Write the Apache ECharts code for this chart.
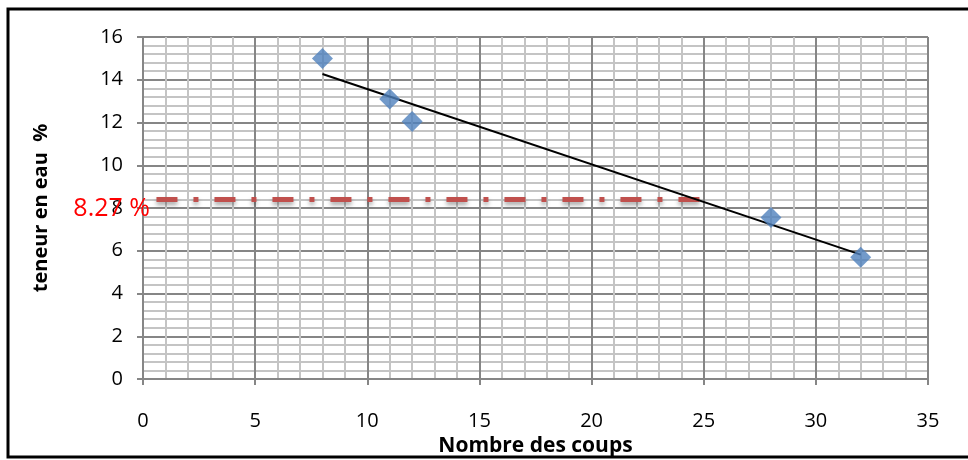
<!DOCTYPE html>
<html>
<head>
<meta charset="utf-8">
<script src="https://cdn.jsdelivr.net/npm/echarts@6/dist/echarts.min.js"></script>
<style>
  html, body { margin: 0; padding: 0; background: #fff; }
  #chart { width: 968px; height: 460px; }
</style>
</head>
<body>
<div id="chart"></div>
<script>
// measured points
const coups = [8, 11, 12, 28, 32]
const teneur = [15, 13.1, 12.05, 7.55, 5.7]

// linear trend line, ends
const trendX = [8, 32]
const trendY = [14.27, 5.82]

// liquid limit line
const limitX = [0.6, 25]
const limitY = 8.4
const limitLabel = '8.27 %'

const font = 'Open Sans, Liberation Sans, sans-serif'

const myChart = echarts.init(document.getElementById('chart'))
const option = {
  animation: false,
  grid: {
    left: 143,
    right: 40,
    top: 37,
    bottom: 81,
    outerBoundsMode: 'none',
  },
  xAxis: {
    type: 'value',
    min: 0,
    max: 35,
    interval: 5,
    name: 'Nombre des coups',
    nameLocation: 'middle',
    nameGap: 52,
    nameTextStyle: { fontFamily: font, fontSize: 21, fontWeight: 'bold', color: '#000' },
    axisLine: { show: true, lineStyle: { color: '#868686', width: 2 } },
    axisTick: { show: true, length: 6, lineStyle: { color: '#868686', width: 2 } },
    axisLabel: { fontFamily: font, fontSize: 20, color: '#000', margin: 32 },
    splitLine: { show: true, lineStyle: { color: '#868686', width: 2 } },
    minorTick: { show: false, splitNumber: 5 },
    minorSplitLine: { show: true, lineStyle: { color: '#c4c4c4', width: 2 } },
  },
  yAxis: {
    type: 'value',
    min: 0,
    max: 16,
    interval: 2,
    name: 'teneur en eau  %',
    nameLocation: 'middle',
    nameGap: 92,
    nameTextStyle: { fontFamily: font, fontSize: 20, fontWeight: 'bold', color: '#000' },
    axisLine: { show: true, lineStyle: { color: '#868686', width: 2 } },
    axisTick: { show: true, length: 6, lineStyle: { color: '#868686', width: 2 } },
    axisLabel: { fontFamily: font, fontSize: 20, color: '#000', margin: 20 },
    splitLine: { show: true, lineStyle: { color: '#868686', width: 2 } },
    minorTick: { show: false, splitNumber: 5 },
    minorSplitLine: { show: true, lineStyle: { color: '#c4c4c4', width: 2 } },
  },
  graphic: [
    {
      type: 'rect',
      shape: { x: 8, y: 9, width: 1000, height: 448 },
      style: { fill: null, stroke: '#000', lineWidth: 3 },
      silent: true,
    },
  ],
  series: [
    {
      name: 'limite',
      type: 'line',
      data: limitX.map((x) => [x, limitY]),
      showSymbol: false,
      z: 3,
      lineStyle: {
        color: '#c0504d',
        width: 5,
        type: [21, 16, 5, 16],
        shadowColor: 'rgba(0,0,0,0.35)',
        shadowBlur: 4,
        shadowOffsetY: 3,
      },
      markPoint: {
        symbol: 'rect',
        symbolSize: [1, 1],
        itemStyle: { color: 'rgba(0,0,0,0)' },
        data: [{ coord: [limitX[0], limitY] }],
        label: {
          show: true,
          formatter: limitLabel,
          position: 'left',
          distance: 6,
          offset: [0, 9],
          color: '#ff0000',
          fontFamily: font,
          fontSize: 25,
        },
      },
    },
    {
      name: 'tendance',
      type: 'line',
      data: trendX.map((x, i) => [x, trendY[i]]),
      showSymbol: false,
      z: 4,
      lineStyle: { color: '#000', width: 2 },
    },
    {
      name: 'teneur',
      type: 'scatter',
      symbol: 'diamond',
      symbolSize: [21, 21],
      z: 5,
      itemStyle: { color: '#4f81bd' },
      data: coups.map((x, i) => [x, teneur[i]]),
    },
  ],
}
myChart.setOption(option)
</script>
</body>
</html>
